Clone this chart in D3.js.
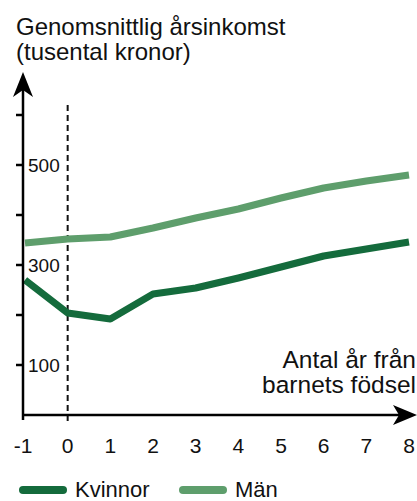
<!DOCTYPE html>
<html>
<head>
<meta charset="utf-8">
<script src="https://cdn.jsdelivr.net/npm/d3@7"></script>
<style>
  body { margin: 0; background: #fff; }
  svg { display: block; font-family: "Liberation Sans", Arial, sans-serif; }
</style>
</head>
<body>
<div id="chart"></div>
<script>
// data
var years = [-1, 0, 1, 2, 3, 4, 5, 6, 7, 8];
var kvinnor = [270, 204, 192, 242, 254, 274, 296, 318, 332, 346];
var man = [344, 352, 356, 374, 394, 412, 434, 454, 468, 480];
var yTicks = [100, 200, 300, 400, 500, 600];
var yLabels = [100, 300, 500];
var seriesNames = ["Kvinnor", "Män"];
var seriesColors = ["#146b3c", "#5e9e6c"];

var W = 417, H = 501;
var AXIS_X = 23, AXIS_Y = 415;

var svg = d3.select("#chart").append("svg")
    .attr("width", W)
    .attr("height", H);

var x = d3.scaleLinear().domain([-1, 8]).range([25, 409]);
var y = d3.scaleLinear().domain([0, 600]).range([AXIS_Y, 115]);

// title
var title = svg.append("text")
    .attr("font-size", 24)
    .attr("fill", "#111");
title.append("tspan").attr("x", 16).attr("y", 35).text("Genomsnittlig årsinkomst");
title.append("tspan").attr("x", 16).attr("y", 60).text("(tusental kronor)");

// dashed line at birth
svg.append("line")
    .attr("x1", x(0)).attr("x2", x(0))
    .attr("y1", 105).attr("y2", AXIS_Y + 6)
    .attr("stroke", "#111")
    .attr("stroke-width", 2)
    .attr("stroke-dasharray", "6,4");

// series lines
var line = d3.line()
    .x(function (d, i) { return x(years[i]); })
    .y(function (d) { return y(d); });

[kvinnor, man].forEach(function (s, i) {
    svg.append("path")
        .datum(s)
        .attr("d", line)
        .attr("fill", "none")
        .attr("stroke", seriesColors[i])
        .attr("stroke-width", 7)
        .attr("stroke-linejoin", "round");
});

// y axis
svg.append("line")
    .attr("x1", AXIS_X).attr("x2", AXIS_X)
    .attr("y1", AXIS_Y + 5).attr("y2", 88)
    .attr("stroke", "#000").attr("stroke-width", 2.5);
svg.append("path")
    .attr("d", "M" + AXIS_X + ",72 L" + (AXIS_X + 10) + ",97 L" + AXIS_X + ",90 L" + (AXIS_X - 10) + ",97 Z")
    .attr("fill", "#000");

svg.selectAll(".ytick")
    .data(yTicks)
    .enter().append("line")
    .attr("class", "ytick")
    .attr("x1", AXIS_X - 7).attr("x2", AXIS_X)
    .attr("y1", function (d) { return y(d); })
    .attr("y2", function (d) { return y(d); })
    .attr("stroke", "#000").attr("stroke-width", 2.5);

svg.selectAll(".ylab")
    .data(yLabels)
    .enter().append("text")
    .attr("class", "ylab")
    .attr("x", AXIS_X + 5)
    .attr("y", function (d) { return y(d); })
    .attr("dy", "0.36em")
    .attr("font-size", 19)
    .attr("fill", "#111")
    .text(function (d) { return d; });

// x axis
svg.append("line")
    .attr("x1", AXIS_X - 1).attr("x2", W - 8)
    .attr("y1", AXIS_Y).attr("y2", AXIS_Y)
    .attr("stroke", "#000").attr("stroke-width", 2.5);
svg.append("path")
    .attr("d", "M" + W + "," + AXIS_Y + " L" + (W - 24) + "," + (AXIS_Y - 10) +
        " L" + (W - 18) + "," + AXIS_Y + " L" + (W - 24) + "," + (AXIS_Y + 10) + " Z")
    .attr("fill", "#000");

svg.selectAll(".xlab")
    .data(years)
    .enter().append("text")
    .attr("class", "xlab")
    .attr("x", function (d) { return d < 0 ? x(d) - 2 : x(d); })
    .attr("y", 453)
    .attr("text-anchor", "middle")
    .attr("font-size", 21)
    .attr("fill", "#111")
    .text(function (d) { return d; });

var xTitle = svg.append("text")
    .attr("text-anchor", "end")
    .attr("font-size", 24.5)
    .attr("fill", "#111");
xTitle.append("tspan").attr("x", 416).attr("y", 368).text("Antal år från");
xTitle.append("tspan").attr("x", 416).attr("y", 393).text("barnets födsel");

// legend
var legend = svg.selectAll(".legend")
    .data(seriesNames)
    .enter().append("g")
    .attr("class", "legend")
    .attr("transform", function (d, i) { return "translate(" + (23 + i * 160) + ",490)"; });

legend.append("line")
    .attr("x1", 0).attr("x2", 40)
    .attr("stroke", function (d, i) { return seriesColors[i]; })
    .attr("stroke-width", 8)
    .attr("stroke-linecap", "round");

legend.append("text")
    .attr("x", 52)
    .attr("y", 7)
    .attr("font-size", 22)
    .attr("fill", "#111")
    .text(function (d) { return d; });
</script>
</body>
</html>
